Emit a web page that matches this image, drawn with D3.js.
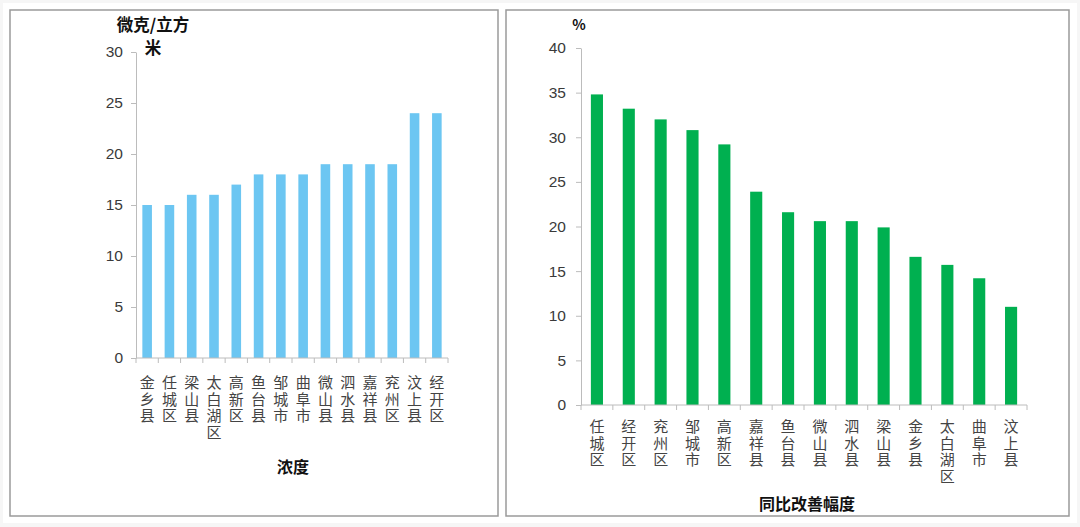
<!DOCTYPE html>
<html><head><meta charset="utf-8">
<script src="https://cdn.jsdelivr.net/npm/d3@7"></script>
<style>
html,body{margin:0;padding:0;background:#fff;}
svg{display:block;}
</style></head>
<body>
<svg id="c" width="1080" height="527"></svg>
<script>
// ---- data ----
const leftCategories = ["金乡县","任城区","梁山县","太白湖区","高新区","鱼台县","邹城市","曲阜市","微山县","泗水县","嘉祥县","兖州区","汶上县","经开区"];
const leftValues = [15,15,16,16,17,18,18,18,19,19,19,19,24,24];
const leftTicks = [0,5,10,15,20,25,30];

const rightCategories = ["任城区","经开区","兖州区","邹城市","高新区","嘉祥县","鱼台县","微山县","泗水县","梁山县","金乡县","太白湖区","曲阜市","汶上县"];
const rightValues = [34.8,33.2,32.0,30.8,29.2,23.9,21.6,20.6,20.6,19.9,16.6,15.7,14.2,11.0];
const rightTicks = [0,5,10,15,20,25,30,35,40];

const svg = d3.select("#c");
const numFont = "'Liberation Sans', 'DejaVu Sans', sans-serif";
const cjkFont = "'Noto Sans CJK SC', sans-serif";

// faint outer frame
svg.append("rect").attr("x",0).attr("y",0).attr("width",1080).attr("height",527).attr("fill","#f6f6f6");
svg.append("rect").attr("x",3).attr("y",3).attr("width",1074).attr("height",520).attr("fill","#fff");

function panel(cfg){
  svg.append("rect").attr("x",cfg.box[0]).attr("y",cfg.box[1])
    .attr("width",cfg.box[2]-cfg.box[0]).attr("height",cfg.box[3]-cfg.box[1])
    .attr("fill","#fff").attr("stroke","#9a9a9a").attr("stroke-width",1.5);

  const x = d3.scaleBand().domain(cfg.cats).range(cfg.xr)
    .paddingInner(cfg.pad).paddingOuter(cfg.pad/2);
  const y = d3.scaleLinear().domain([0, d3.max(cfg.ticks)]).range(cfg.yr);
  const g = svg.append("g");

  // bars
  g.selectAll("rect.bar").data(cfg.cats).join("rect")
    .attr("x", d => x(d)).attr("width", x.bandwidth())
    .attr("y", (d,i) => y(cfg.vals[i]))
    .attr("height", (d,i) => y(0) - y(cfg.vals[i]))
    .attr("fill", cfg.color);

  // y axis
  const ya = g.append("g").attr("transform", `translate(${cfg.xr[0]},0)`)
    .call(d3.axisLeft(y).tickValues(cfg.ticks).tickSize(5).tickSizeOuter(0).tickPadding(cfg.tp));
  ya.select(".domain").attr("stroke","#bcbcbc");
  ya.selectAll(".tick line").attr("stroke","#bcbcbc");
  ya.selectAll(".tick text").attr("fill","#3a3a3a").attr("font-family",numFont).attr("font-size",15.5);

  // x axis line + ticks between categories
  g.append("line").attr("x1",cfg.xr[0]).attr("x2",cfg.xr[1]).attr("y1",y(0)).attr("y2",y(0))
    .attr("stroke","#bcbcbc");
  const step = x.step();
  const tickXs = d3.range(cfg.cats.length+1).map(i => x(cfg.cats[0]) - x.paddingInner()*step/2 + i*step);
  g.selectAll("line.xt").data(tickXs).join("line")
    .attr("x1",d=>d).attr("x2",d=>d).attr("y1",y(0)).attr("y2",y(0)+5).attr("stroke","#bcbcbc");

  // vertical category labels (vertical writing mode)
  g.selectAll("text.cat").data(cfg.cats).join("text")
    .attr("class","cat")
    .attr("x", d => x(d) + x.bandwidth()/2)
    .attr("y", y(0) + cfg.labOff)
    .style("writing-mode","vertical-rl")
    .style("text-orientation","upright")
    .style("letter-spacing","1.6px")
    .attr("font-family",cjkFont).attr("font-size",15).attr("fill","#444")
    .text(d => d);

  // y axis title (one text, lines as tspans)
  const yt = g.append("text").attr("text-anchor","middle")
    .attr("font-family",cjkFont).attr("font-weight","bold").attr("font-size",cfg.ytSize)
    .attr("fill","#111");
  cfg.ytitle.forEach(tt=>{
    yt.append("tspan").attr("x",tt[0]).attr("y",tt[1]).text(tt[2]);
  });
  g.append("text").attr("x",cfg.xtitle[0]).attr("y",cfg.xtitle[1]).attr("text-anchor","middle")
    .attr("font-family",cjkFont).attr("font-weight","bold").attr("font-size",16)
    .attr("fill","#111").text(cfg.xtitle[2]);
}

panel({
  box:[10,10,498,516],
  cats:leftCategories, vals:leftValues, ticks:leftTicks,
  xr:[136,448], yr:[358,52], pad:0.57, tp:8,
  color:"#6CC6F2", labOff:17,
  ytSize:16.5,
  ytitle:[[153,31,"微克/立方"],[153,54,"米"]],
  xtitle:[293,473,"浓度"]
});

panel({
  box:[506,10,1069,516],
  cats:rightCategories, vals:rightValues, ticks:rightTicks,
  xr:[581,1027], yr:[405,48], pad:0.62, tp:10,
  color:"#00B050", labOff:14,
  ytSize:14,
  ytitle:[[579,30,"%"]],
  xtitle:[807,510,"同比改善幅度"]
});
</script>
</body></html>
